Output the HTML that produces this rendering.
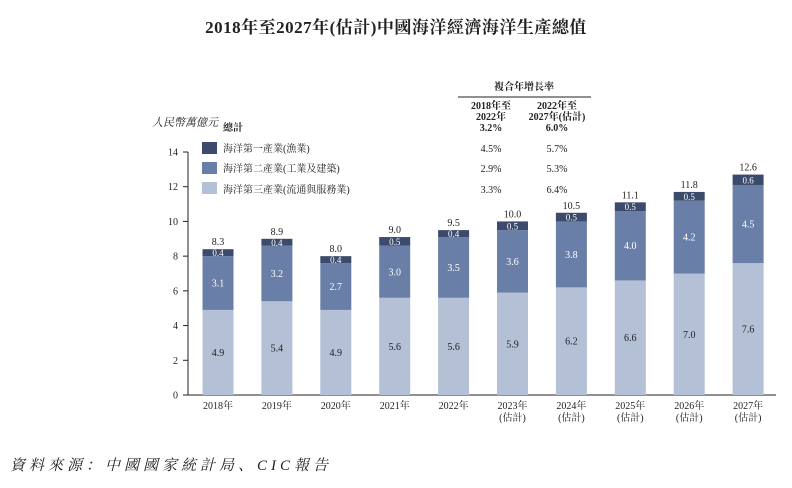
<!DOCTYPE html>
<html><head><meta charset="utf-8"><style>
body{margin:0;background:#fff;}
svg text{font-family:"Liberation Serif","Noto Serif CJK SC",serif;}
</style></head><body>
<svg id="c" width="792" height="483" xmlns="http://www.w3.org/2000/svg">
<text x="396" y="33" text-anchor="middle" font-size="17" font-weight="bold" fill="#222" letter-spacing="0.5">2018年至2027年(估計)中國海洋經濟海洋生產總值</text>
<text x="152" y="126" font-size="11" font-style="italic" fill="#222">人民幣萬億元</text>
<text x="223" y="131" font-size="10" font-weight="bold" fill="#222">總計</text>
<g>
<rect x="202" y="142" width="15" height="12" fill="#3c4b6c"/>
<text x="223" y="152" font-size="10" fill="#222">海洋第一產業(漁業)</text>
<rect x="202" y="162" width="15" height="12" fill="#6a7fa7"/>
<text x="223" y="172" font-size="10" fill="#222">海洋第二產業(工業及建築)</text>
<rect x="202" y="182" width="15" height="12" fill="#b3c0d6"/>
<text x="223" y="193" font-size="10" fill="#222">海洋第三產業(流通與服務業)</text>
</g>
<g font-size="10" fill="#222" text-anchor="middle">
<text x="524" y="90" font-weight="bold">複合年增長率</text>
<line x1="458" y1="97" x2="591" y2="97" stroke="#222" stroke-width="1"/>
<text x="491" y="109" font-weight="bold">2018年至</text>
<text x="491" y="120" font-weight="bold">2022年</text>
<text x="491" y="131" font-weight="bold">3.2%</text>
<text x="557" y="109" font-weight="bold">2022年至</text>
<text x="557" y="120" font-weight="bold">2027年(估計)</text>
<text x="557" y="131" font-weight="bold">6.0%</text>
<text x="491" y="152">4.5%</text><text x="557" y="152">5.7%</text>
<text x="491" y="172">2.9%</text><text x="557" y="172">5.3%</text>
<text x="491" y="193">3.3%</text><text x="557" y="193">6.4%</text>
</g>
<g id="axes"></g>
<g id="bars"></g>
<text x="10" y="470" font-size="15" font-style="italic" fill="#222" letter-spacing="4">資料來源：中國國家統計局、CIC報告</text>
</svg>
<script>
const categories=["2018年","2019年","2020年","2021年","2022年","2023年","2024年","2025年","2026年","2027年"];
const estimated=[false,false,false,false,false,true,true,true,true,true];
const tertiary=[4.9,5.4,4.9,5.6,5.6,5.9,6.2,6.6,7.0,7.6];
const secondary=[3.1,3.2,2.7,3.0,3.5,3.6,3.8,4.0,4.2,4.5];
const primary=[0.4,0.4,0.4,0.5,0.4,0.5,0.5,0.5,0.5,0.6];
const totals=[8.3,8.9,8.0,9.0,9.5,10.0,10.5,11.1,11.8,12.6];
const yTicks=[0,2,4,6,8,10,12,14];
const NS="http://www.w3.org/2000/svg";
const y0=395,yTop=152,yMax=14;
const y=v=>y0-(v/yMax)*(y0-yTop);
const x=i=>218+i*58.9;
const bw=31;
function mk(t,a,p){const e=document.createElementNS(NS,t);for(const k in a)e.setAttribute(k,a[k]);p.appendChild(e);return e;}
const ax=document.getElementById('axes'),bg=document.getElementById('bars');
const yl=mk('line',{x1:188,y1:y0,x2:188,y2:yTop,stroke:'#222'},ax);


const xl=mk('line',{x1:188,y1:y0,x2:776,y2:y0,stroke:'#222'},ax);


yTicks.forEach(v=>{
 mk('line',{x1:183,y1:y(v),x2:188,y2:y(v),stroke:'#222'},ax);
 const t=mk('text',{x:178,y:y(v)+3.5,'text-anchor':'end','font-size':10,fill:'#222'},ax);t.textContent=v;
 
 
});
const cols=['#b3c0d6','#6a7fa7','#3c4b6c'];
categories.forEach((c,i)=>{
 const cx=x(i);let base=0;
 [tertiary,secondary,primary].forEach((s,k)=>{
  const v=s[i];
  const r=mk('rect',{x:cx-bw/2,y:y(base+v),width:bw,height:y(base)-y(base+v),fill:cols[k]},bg);
  
  
  const t=mk('text',{x:cx,y:(y(base)+y(base+v))/2+3.5,'text-anchor':'middle','font-size':k==2?9:10,fill:k==0?'#222':'#fff'},bg);
  t.textContent=v.toFixed(1);
  
  
  base+=v;
 });
 const tt=mk('text',{x:cx,y:y(base)-4,'text-anchor':'middle','font-size':10,fill:'#222'},bg);
 tt.textContent=totals[i].toFixed(1);
 
 
 const l=mk('text',{x:cx,y:409,'text-anchor':'middle','font-size':10,fill:'#222'},ax);
 l.textContent=c;
 
 
 if(estimated[i]){const l2=mk('text',{x:cx,y:421,'text-anchor':'middle','font-size':10,fill:'#222'},ax);l2.textContent='(估計)';
 
 }
});
</script>
</body></html>
